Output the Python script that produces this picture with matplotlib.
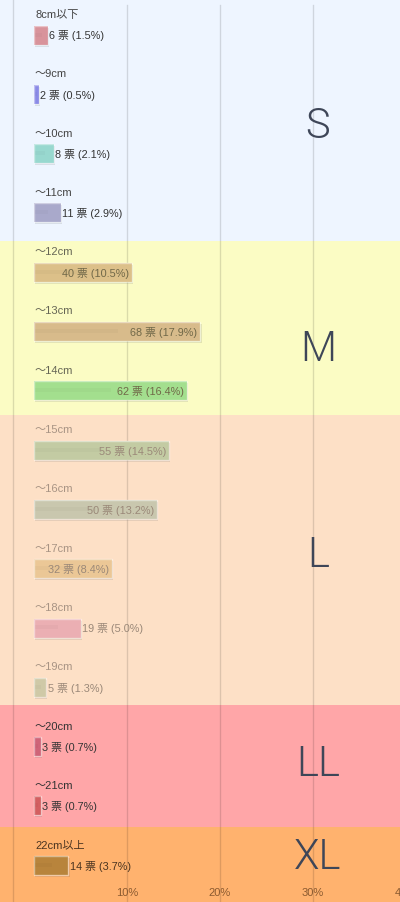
import matplotlib
matplotlib.use("Agg")
import matplotlib.pyplot as plt
from matplotlib.patches import Rectangle

# ---------------- data ----------------
categories = ["8cm以下", "～9cm", "～10cm", "～11cm", "～12cm", "～13cm", "～14cm",
              "～15cm", "～16cm", "～17cm", "～18cm", "～19cm", "～20cm", "～21cm", "22cm以上"]
votes = [6, 2, 8, 11, 40, 68, 62, 55, 50, 32, 19, 5, 3, 3, 14]
percents = [1.5, 0.5, 2.1, 2.9, 10.5, 17.9, 16.4, 14.5, 13.2, 8.4, 5.0, 1.3, 0.7, 0.7, 3.7]
bar_colors = ["#d8939b", "#8a8ae6", "#98d8cf", "#a9a9cb", "#dcc089", "#d8bb8b", "#a3df8e",
              "#c3cba3", "#c9c7ae", "#ebc796", "#ebafb3", "#cfc9a7", "#cf6478", "#d35f60", "#b8843c"]
size_names = ["S", "M", "L", "LL", "XL"]
size_rows = [[0, 1, 2, 3], [4, 5, 6], [7, 8, 9, 10, 11], [12, 13], [14]]
band_colors = ["#eef5ff", "#fbfcc4", "#fde0c6", "#ffa6a8", "#ffb26e"]
tick_values = [10, 20, 30, 40]
tick_labels = ["10%", "20%", "30%", "40%"]

# ---------------- layout ----------------
W, H = 400, 903
X0, PXPCT = 34.0, 9.3          # pixel of 0 %, pixels per percent
Y0, ROWPX = 36.0, 59.3         # pixel of first bar centre, pixels per row
band_edges_px = [0, 242, 416, 706, 828, 903]
big_label_px = [127, 350, 556, 765, 858]
label_col = [("#444444", "#333333"), ("#666655", "#706848"), ("#a89484", "#9a8878"),
             ("#333333", "#333333"), ("#4a3420", "#4a3420")]


def px_y(p):
    return (p - Y0) / ROWPX


def px_x(p):
    return (p - X0) / PXPCT


fig = plt.figure(figsize=(W / 100, H / 100), dpi=100)
ax = fig.add_axes([0, 0, 1, 1])
ax.set_xlim(px_x(0), px_x(W))
ax.set_ylim(px_y(H), px_y(0))
ax.axis("off")

FAM = ["Liberation Sans", "Noto Sans CJK JP", "DejaVu Sans"]

# bands
for i, c in enumerate(band_colors):
    y_top = px_y(band_edges_px[i])
    y_bot = px_y(band_edges_px[i + 1])
    ax.add_patch(Rectangle((px_x(0), y_top), px_x(W) - px_x(0), y_bot - y_top,
                           facecolor=c, edgecolor="none", zorder=0))

# grid lines
ax.plot([px_x(13), px_x(13)], [px_y(0), px_y(H)], color="#000000", alpha=0.13, lw=1, zorder=1)
for t in tick_values[:3]:
    ax.plot([t, t], [px_y(6), px_y(H)], color="#000000", alpha=0.13, lw=1, zorder=1)

# tick labels
for t, lab in zip(tick_values, tick_labels):
    ax.text(t, px_y(893), lab, ha="center", va="center", fontsize=8,
            color="#8a5a30", family=FAM, zorder=5)

band_of = {}
for b, rows in enumerate(size_rows):
    for r in rows:
        band_of[r] = b

bh = 19 / ROWPX
for i, (cat, v, p, col) in enumerate(zip(categories, votes, percents, bar_colors)):
    b = band_of[i]
    lc, vc = label_col[b]
    # shadow
    ax.add_patch(Rectangle((0.12, i - bh / 2 + 2.0 / ROWPX), p, bh,
                           facecolor="#000000", alpha=0.10, edgecolor="none", zorder=2))
    # main bar
    ax.add_patch(Rectangle((0, i - bh / 2), p, bh, facecolor=col, edgecolor="none", zorder=3))
    # lighter border
    ax.add_patch(Rectangle((0, i - bh / 2), p, bh, facecolor="none",
                           edgecolor="#ffffff", alpha=0.45, lw=1.0, zorder=4))
    # darker middle stripe
    ax.add_patch(Rectangle((0.1, i - 2.5 / ROWPX), p * 0.5, 4 / ROWPX,
                           facecolor="#000000", alpha=0.025, edgecolor="none", zorder=4))
    # category label
    ax.text(px_x(35), i - 21 / ROWPX, cat, ha="left", va="center", fontsize=8,
            color=lc, family=FAM, zorder=5)
    # value label
    txt = f"{v} 票 ({p:.1f}%)"
    if p >= 8:
        ax.text(p - 3 / PXPCT, i, txt, ha="right", va="center", fontsize=7.8,
                color=vc, family=FAM, zorder=5)
    else:
        ax.text(p + 1.5 / PXPCT, i, txt, ha="left", va="center", fontsize=7.8,
                color=vc, family=FAM, zorder=5)

# big size letters
for name, ypx in zip(size_names, big_label_px):
    ax.text(px_x(318), px_y(ypx), name, ha="center", va="center", fontsize=30,
            color="#3e4658", family=["Roboto", "Lato", "DejaVu Sans"], fontweight=300,
            zorder=5)

fig.savefig("out.png", dpi=100)
